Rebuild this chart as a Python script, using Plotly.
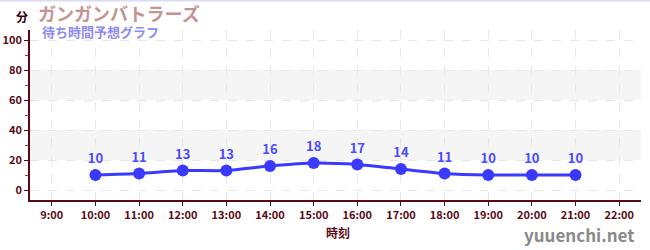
import plotly.graph_objects as go

hours = [10, 11, 12, 13, 14, 15, 16, 17, 18, 19, 20, 21]
waits = [10, 11, 13, 13, 16, 18, 17, 14, 11, 10, 10, 10]
tick_vals = list(range(9, 23))
tick_text = [f"{h}:00" for h in tick_vals]
title = "ガンガンバトラーズ"
subtitle = "待ち時間予想グラフ"
y_unit = "分"
x_title = "時刻"
watermark = "yuuenchi.net"

FONT = "Noto Sans CJK JP"
AXIS = "#5a0a14"

L, R, T, B = 30, 9, 30, 50
W, H = 650, 250
pw, ph = W - L - R, H - T - B


def px(x):
    return (x - L) / pw


def py(y):
    return (H - B - y) / ph


fig = go.Figure()
fig.add_trace(go.Scatter(
    x=hours, y=waits, mode="lines+markers+text",
    text=[str(v) for v in waits], textposition="top center",
    textfont=dict(family=FONT, size=13, color="#4a4aff", weight="bold"),
    line=dict(color="#3a3aff", width=3, shape="spline", smoothing=0.6),
    marker=dict(color="#3a3aff", size=12),
    cliponaxis=False, hoverinfo="skip",
))

for lo, hi in [(20, 40), (60, 80)]:
    fig.add_shape(type="rect", xref="paper", yref="y", x0=0, x1=1, y0=lo, y1=hi,
                  fillcolor="#f5f5f5", line_width=0, layer="below")

fig.add_shape(type="line", xref="paper", yref="paper", x0=px(0), x1=px(W),
              y0=py(0.5), y1=py(0.5), line=dict(color="#dcdcf6", width=2))

fig.update_xaxes(
    range=[8.5, 22.5], tickvals=tick_vals, ticktext=tick_text,
    showline=True, linecolor=AXIS, linewidth=1.5,
    ticks="outside", ticklen=4, tickcolor=AXIS,
    tickfont=dict(family=FONT, size=11, color=AXIS, weight="bold"),
    showgrid=True, gridcolor="#e6e6e6", griddash="dash", gridwidth=1,
    zeroline=False, fixedrange=True, automargin=False,
)
fig.update_yaxes(
    range=[-6.67, 106.67], tickvals=[0, 20, 40, 60, 80, 100],
    showline=True, linecolor=AXIS, linewidth=1.5,
    ticks="outside", ticklen=4, tickcolor=AXIS,
    tickfont=dict(family=FONT, size=11, color=AXIS, weight="bold"),
    showgrid=True, gridcolor="#e6e6e6", griddash="dash", gridwidth=1,
    zeroline=False, fixedrange=True, automargin=False,
    minor=dict(tickvals=[10, 30, 50, 70, 90], ticks="outside", ticklen=3,
               tickcolor="#dd2222", showgrid=False),
)

anns = [
    dict(text=title, x=px(36), y=py(13), xanchor="left", yanchor="middle",
         font=dict(family=FONT, size=18, color="#c49494", weight="bold")),
    dict(text=subtitle, x=px(40), y=py(32), xanchor="left", yanchor="middle",
         font=dict(family=FONT, size=13, color="#8c8cf2", weight="bold")),
    dict(text=y_unit, x=px(22), y=py(16), xanchor="center", yanchor="middle",
         font=dict(family=FONT, size=12, color="#3a0008", weight="bold")),
    dict(text=x_title, x=px(338), y=py(232), xanchor="center", yanchor="middle",
         font=dict(family=FONT, size=12, color=AXIS, weight="bold")),
    dict(text=watermark, x=px(636), y=py(234), xanchor="right", yanchor="middle",
         font=dict(family=FONT, size=17, color="#8a8a8a", weight="bold")),
]
for a in anns:
    fig.add_annotation(xref="paper", yref="paper", showarrow=False, **a)

fig.update_layout(
    width=W, height=H, margin=dict(l=L, r=R, t=T, b=B),
    paper_bgcolor="white", plot_bgcolor="white", showlegend=False,
)
fig.write_html("out.html", config={"displayModeBar": False})
